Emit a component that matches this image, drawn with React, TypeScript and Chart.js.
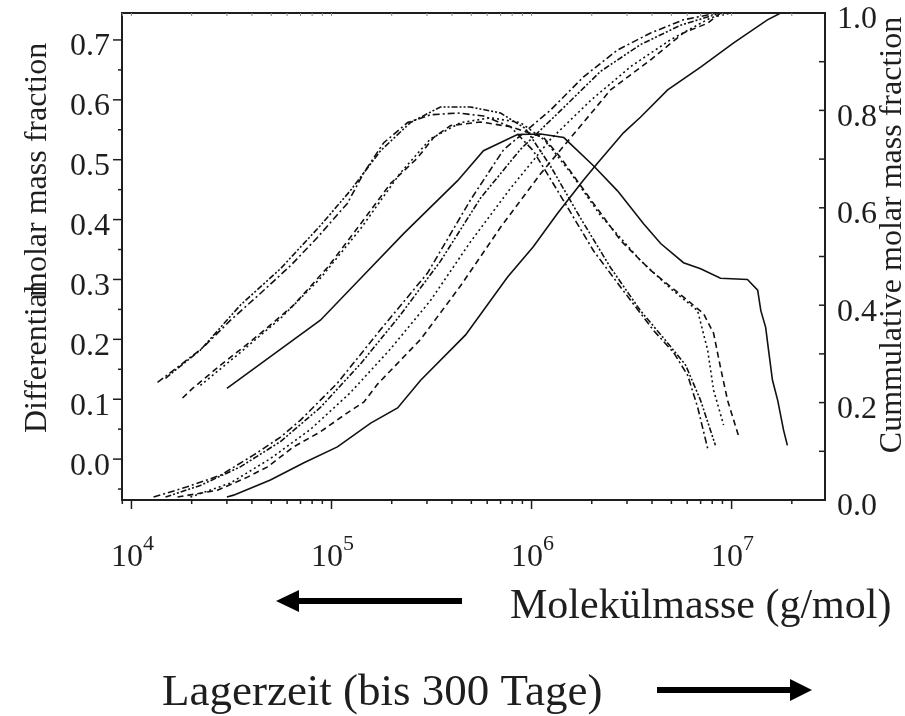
import React, { useEffect, useRef } from "react";
import { Chart, registerables } from "chart.js";

Chart.register(...registerables);

const FONT = '"Liberation Serif", "Times New Roman", Times, serif';
const INK = "#1e1e1e";

// ---- Differential molar mass fraction (left axis) ----
// solid
const diffSolidM = [3.0e4, 5.75e4, 8.8e4, 1.4e5, 2.3e5, 4.27e5, 5.75e5, 8.5e5, 1.11e6, 1.45e6, 2.04e6, 2.69e6, 3.63e6, 4.42e6, 5.75e6, 7.0e6, 8.8e6, 1.2e7, 1.35e7, 1.4e7, 1.48e7, 1.53e7, 1.6e7, 1.7e7, 1.82e7, 1.9e7];
const diffSolidY = [0.118, 0.187, 0.232, 0.302, 0.377, 0.465, 0.515, 0.542, 0.543, 0.537, 0.49, 0.448, 0.393, 0.36, 0.328, 0.318, 0.302, 0.30, 0.282, 0.248, 0.22, 0.182, 0.132, 0.098, 0.048, 0.023];
// dash-dot
const diffDashDotM = [1.35e4, 1.62e4, 2.29e4, 3.13e4, 4.42e4, 6.24e4, 8.5e4, 1.2e5, 1.45e5, 1.82e5, 2.4e5, 3.13e5, 4.27e5, 5.75e5, 7.85e5, 1.02e6, 1.35e6, 2.04e6, 2.79e6, 4.07e6, 5.13e6, 6.03e6, 6.76e6, 7.59e6];
const diffDashDotY = [0.128, 0.148, 0.187, 0.232, 0.277, 0.323, 0.37, 0.427, 0.478, 0.528, 0.562, 0.575, 0.578, 0.573, 0.555, 0.515, 0.448, 0.348, 0.287, 0.215, 0.178, 0.14, 0.087, 0.018];
// dash-dot-dot
const diffDashDotDotM = [1.48e4, 2.21e4, 3.5e4, 5.56e4, 8.8e4, 1.24e5, 1.76e5, 2.48e5, 3.5e5, 4.95e5, 7.0e5, 9.33e5, 1.24e6, 1.76e6, 2.48e6, 3.5e6, 4.68e6, 5.89e6, 7.0e6, 8.3e6];
const diffDashDotDotY = [0.135, 0.182, 0.257, 0.318, 0.39, 0.448, 0.515, 0.562, 0.588, 0.588, 0.578, 0.552, 0.49, 0.402, 0.32, 0.248, 0.198, 0.157, 0.098, 0.023];
// dashed
const diffDashedM = [1.8e4, 2.02e4, 2.79e4, 3.63e4, 4.42e4, 6.46e4, 9.55e4, 1.4e5, 1.97e5, 2.69e5, 3.24e5, 3.94e5, 5.56e5, 7.85e5, 1.15e6, 1.4e6, 2.04e6, 2.79e6, 3.94e6, 6.03e6, 7.24e6, 8.13e6, 8.8e6, 9.55e6, 1.08e7];
const diffDashedY = [0.102, 0.118, 0.157, 0.187, 0.21, 0.257, 0.32, 0.393, 0.46, 0.503, 0.537, 0.557, 0.563, 0.555, 0.537, 0.503, 0.427, 0.365, 0.315, 0.265, 0.243, 0.21, 0.153, 0.098, 0.04];
// dotted
const diffDottedM = [2.21e4, 3.5e4, 5.56e4, 8.8e4, 1.4e5, 2.21e5, 3.13e5, 4.42e5, 6.24e5, 8.8e5, 1.17e6, 1.57e6, 2.21e6, 3.5e6, 4.95e6, 6.76e6, 7.59e6, 8.13e6, 9.12e6];
const diffDottedY = [0.123, 0.178, 0.235, 0.302, 0.385, 0.478, 0.535, 0.562, 0.57, 0.562, 0.532, 0.478, 0.407, 0.332, 0.285, 0.248, 0.182, 0.115, 0.057];

// ---- Cumulative molar mass fraction (right axis) ----
const cumSolidM = [3.0e4, 3.24e4, 4.95e4, 7.24e4, 1.07e5, 1.57e5, 2.14e5, 2.79e5, 4.68e5, 7.59e5, 1.02e6, 1.35e6, 1.82e6, 2.14e6, 2.88e6, 3.5e6, 4.79e6, 7.0e6, 1.02e7, 1.51e7, 1.76e7, 2.21e7];
const cumSolidY = [0.006, 0.01, 0.041, 0.076, 0.109, 0.158, 0.189, 0.246, 0.339, 0.458, 0.52, 0.589, 0.657, 0.692, 0.754, 0.786, 0.842, 0.889, 0.938, 0.986, 1.0, 1.0];
const cumDashDotM = [1.29e4, 1.9e4, 2.79e4, 4.07e4, 5.56e4, 7.0e4, 8.8e4, 1.07e5, 1.76e5, 3.02e5, 4.95e5, 7.24e5, 1.24e6, 1.82e6, 2.69e6, 3.94e6, 5.75e6, 8.5e6];
const cumDashDotY = [0.006, 0.027, 0.051, 0.092, 0.129, 0.164, 0.205, 0.24, 0.35, 0.466, 0.616, 0.719, 0.80, 0.869, 0.924, 0.959, 0.986, 1.0];
const cumDashDotDotM = [1.48e4, 2.21e4, 3.5e4, 5.56e4, 8.8e4, 1.4e5, 2.21e5, 3.5e5, 5.56e5, 8.8e5, 1.4e6, 2.21e6, 3.5e6, 5.56e6, 8.8e6];
const cumDashDotDotY = [0.006, 0.03, 0.068, 0.12, 0.19, 0.28, 0.38, 0.49, 0.62, 0.72, 0.80, 0.88, 0.935, 0.975, 1.0];
const cumDashedM = [1.7e4, 2.69e4, 3.8e4, 4.79e4, 6.46e4, 8.8e4, 1.2e5, 1.45e5, 1.7e5, 2.79e5, 4.42e5, 7.0e5, 1.11e6, 2.04e6, 2.48e6, 3.94e6, 5.75e6, 7.59e6, 8.8e6];
const cumDashedY = [0.006, 0.02, 0.047, 0.068, 0.109, 0.14, 0.179, 0.201, 0.238, 0.33, 0.44, 0.56, 0.67, 0.80, 0.842, 0.904, 0.959, 0.979, 1.0];
const cumDottedM = [1.97e4, 3.13e4, 4.95e4, 7.85e4, 1.24e5, 1.97e5, 3.13e5, 4.95e5, 7.85e5, 1.24e6, 1.97e6, 3.13e6, 4.95e6, 7.85e6, 9.9e6];
const cumDottedY = [0.006, 0.035, 0.085, 0.145, 0.22, 0.31, 0.41, 0.53, 0.64, 0.74, 0.82, 0.89, 0.945, 0.99, 1.0];

// ---- axes ----
const xMin = 8970;
const xMax = 2.93e7;
const xDecades = [1e4, 1e5, 1e6, 1e7];
const xExponents = ["4", "5", "6", "7"];
const leftMin = -0.0683;
const leftMax = 0.745;
const leftTicks = [0.0, 0.1, 0.2, 0.3, 0.4, 0.5, 0.6, 0.7];
const rightTicks = [0.0, 0.2, 0.4, 0.6, 0.8, 1.0];

const leftTitleA = "Differential";
const leftTitleB = "molar mass fraction";
const rightTitle = "Cummulative molar mass fraction";
const massText = "Molekülmasse (g/mol)";
const timeText = "Lagerzeit (bis 300 Tage)";

const pts = (ms: number[], ys: number[]) => ms.map((m, i) => ({ x: m, y: ys[i] }));

const styles: { dash: number[] }[] = [
  { dash: [] },
  { dash: [7, 3, 2, 3] },
  { dash: [6, 2, 2, 2, 2, 2] },
  { dash: [6, 4] },
  { dash: [2, 3] },
];

const zeroPad = (s: any) => {
  s.paddingTop = 0;
  s.paddingBottom = 0;
  s.paddingLeft = 0;
  s.paddingRight = 0;
};

const framePlugin = {
  id: "framePlugin",
  afterDatasetsDraw(chart: any) {
    const { ctx, chartArea } = chart;
    const { left, right, top, bottom } = chartArea;
    const xs = chart.scales.x;
    const ys = chart.scales.y;
    const y2 = chart.scales.y2;
    ctx.save();
    ctx.strokeStyle = INK;
    ctx.lineWidth = 2;
    ctx.setLineDash([]);
    ctx.strokeRect(left, top, right - left, bottom - top);

    ctx.lineWidth = 1.5;
    // left ticks (outward)
    for (let k = -1; k <= 14; k++) {
      const v = k * 0.05;
      if (v < leftMin || v > leftMax) continue;
      const y = ys.getPixelForValue(v);
      const len = k % 2 === 0 ? 9 : 4;
      ctx.beginPath();
      ctx.moveTo(left - len, y);
      ctx.lineTo(left, y);
      ctx.stroke();
    }
    // bottom ticks (outward) + top minor ticks (inward)
    for (let d = 3; d <= 7; d++) {
      for (let m = 1; m <= 9; m++) {
        const val = m * Math.pow(10, d);
        if (val < xMin || val > xMax) continue;
        const x = xs.getPixelForValue(val);
        const len = m === 1 ? 9 : 4;
        ctx.beginPath();
        ctx.moveTo(x, bottom);
        ctx.lineTo(x, bottom + len);
        ctx.stroke();
        ctx.save();
        ctx.strokeStyle = "#888";
        ctx.lineWidth = 1;
        ctx.beginPath();
        ctx.moveTo(x, top);
        ctx.lineTo(x, top + 3);
        ctx.stroke();
        ctx.restore();
      }
    }
    // right ticks (inward)
    for (let k = 1; k <= 9; k++) {
      const y = y2.getPixelForValue(k / 10);
      ctx.beginPath();
      ctx.moveTo(right, y);
      ctx.lineTo(right - 6, y);
      ctx.stroke();
    }

    // x tick labels: 10 with superscript exponent
    ctx.fillStyle = INK;
    ctx.textBaseline = "alphabetic";
    xDecades.forEach((v, i) => {
      const x = xs.getPixelForValue(v);
      ctx.font = `32px ${FONT}`;
      const wBase = ctx.measureText("10").width;
      ctx.font = `22px ${FONT}`;
      const wExp = ctx.measureText(xExponents[i]).width;
      const x0 = x - (wBase + wExp) / 2 + 1;
      ctx.font = `32px ${FONT}`;
      ctx.textAlign = "left";
      ctx.fillText("10", x0, 566);
      ctx.font = `22px ${FONT}`;
      ctx.fillText(xExponents[i], x0 + wBase, 550);
    });

    // axis titles
    ctx.font = `32px ${FONT}`;
    ctx.textBaseline = "middle";
    ctx.save();
    ctx.translate(38, 433);
    ctx.rotate(-Math.PI / 2);
    ctx.textAlign = "left";
    ctx.fillText(leftTitleA, 0, 0);
    ctx.restore();
    ctx.save();
    ctx.translate(38, 297);
    ctx.rotate(-Math.PI / 2);
    ctx.textAlign = "left";
    ctx.fillText(leftTitleB, 0, 0);
    ctx.restore();
    ctx.save();
    ctx.translate(893, 235);
    ctx.rotate(-Math.PI / 2);
    ctx.textAlign = "center";
    ctx.fillText(rightTitle, 0, 0);
    ctx.restore();

    // annotations with arrows
    ctx.textAlign = "left";
    ctx.textBaseline = "alphabetic";
    ctx.font = `42px ${FONT}`;
    ctx.fillText(massText, 510, 618);
    ctx.font = `45px ${FONT}`;
    ctx.fillText(timeText, 162, 705);

    ctx.fillStyle = "#000";
    // left arrow
    ctx.fillRect(297, 598, 165, 6);
    ctx.beginPath();
    ctx.moveTo(276, 601);
    ctx.lineTo(299, 590);
    ctx.lineTo(299, 612);
    ctx.closePath();
    ctx.fill();
    // right arrow
    ctx.fillRect(657, 687, 135, 6);
    ctx.beginPath();
    ctx.moveTo(812, 690);
    ctx.lineTo(790, 679);
    ctx.lineTo(790, 701);
    ctx.closePath();
    ctx.fill();
    ctx.restore();
  },
};

export default function App() {
  const canvasRef = useRef<HTMLCanvasElement | null>(null);

  useEffect(() => {
    document.body.style.margin = "0";
    const canvas = canvasRef.current;
    if (!canvas) return;

    const mk = (label: string, ms: number[], ys: number[], style: number, axis: string) => ({
      label,
      data: pts(ms, ys),
      yAxisID: axis,
      showLine: true,
      borderColor: "#111",
      backgroundColor: "#111",
      borderWidth: 1.6,
      borderDash: styles[style].dash,
      pointRadius: 0,
      tension: 0,
      fill: false,
    });

    const chart = new Chart(canvas, {
      type: "scatter",
      data: {
        datasets: [
          mk("diff solid", diffSolidM, diffSolidY, 0, "y"),
          mk("diff dash-dot", diffDashDotM, diffDashDotY, 1, "y"),
          mk("diff dash-dot-dot", diffDashDotDotM, diffDashDotDotY, 2, "y"),
          mk("diff dashed", diffDashedM, diffDashedY, 3, "y"),
          mk("diff dotted", diffDottedM, diffDottedY, 4, "y"),
          mk("cum solid", cumSolidM, cumSolidY, 0, "y2"),
          mk("cum dash-dot", cumDashDotM, cumDashDotY, 1, "y2"),
          mk("cum dash-dot-dot", cumDashDotDotM, cumDashDotDotY, 2, "y2"),
          mk("cum dashed", cumDashedM, cumDashedY, 3, "y2"),
          mk("cum dotted", cumDottedM, cumDottedY, 4, "y2"),
        ],
      },
      options: {
        animation: false,
        responsive: true,
        maintainAspectRatio: false,
        layout: { padding: { top: 13, left: 0, right: 0, bottom: 0 } },
        plugins: { legend: { display: false }, tooltip: { enabled: false } },
        scales: {
          x: {
            type: "logarithmic",
            position: "bottom",
            min: xMin,
            max: xMax,
            grid: { display: false, drawTicks: false },
            border: { display: false },
            afterBuildTicks: (s: any) => {
              s.ticks = xDecades.map((v) => ({ value: v }));
            },
            afterFit: (s: any) => {
              s.height = 216;
              zeroPad(s);
            },
            ticks: {
              display: false,
              autoSkip: false,
              maxRotation: 0,
            },
          },
          y: {
            type: "linear",
            position: "left",
            min: leftMin,
            max: leftMax,
            grid: { display: false, drawTicks: false },
            border: { display: false },
            afterBuildTicks: (s: any) => {
              s.ticks = leftTicks.map((v) => ({ value: v }));
            },
            afterFit: (s: any) => {
              s.width = 122;
              zeroPad(s);
            },
            ticks: {
              padding: 12,
              labelOffset: 7,
              color: INK,
              font: { family: FONT, size: 32 },
              callback: (v: any) => Number(v).toFixed(1),
            },
          },
          y2: {
            type: "linear",
            position: "right",
            min: 0,
            max: 1,
            grid: { display: false, drawTicks: false },
            border: { display: false },
            afterBuildTicks: (s: any) => {
              s.ticks = rightTicks.map((v) => ({ value: v }));
            },
            afterFit: (s: any) => {
              s.width = 80;
              zeroPad(s);
            },
            ticks: {
              padding: 12,
              labelOffset: 7,
              color: INK,
              font: { family: FONT, size: 32 },
              callback: (v: any) => Number(v).toFixed(1),
            },
          },
        },
      },
      plugins: [framePlugin],
    });

    return () => chart.destroy();
  }, []);

  return (
    <div style={{ width: 905, height: 716, position: "relative", background: "#fff" }}>
      <canvas ref={canvasRef} />
    </div>
  );
}
